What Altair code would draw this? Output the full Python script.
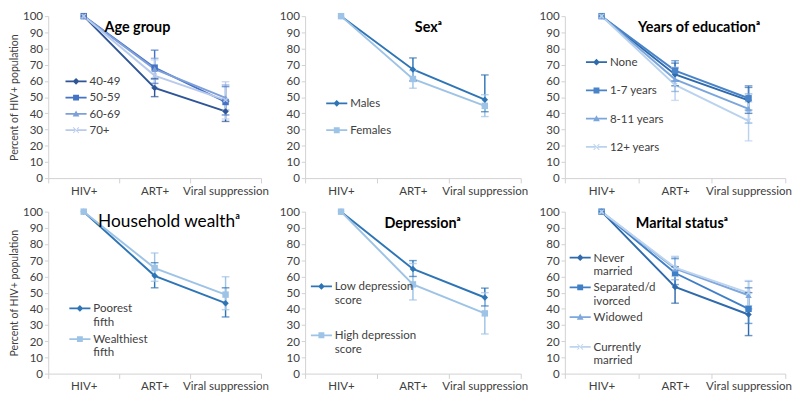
import altair as alt
import pandas as pd

FONT = "Lato"
stages = ["HIV+", "ART+", "Viral suppression"]

# ---- Age group ----
age_series = ["40-49", "50-59", "60-69", "70+"]
age_art = [55.7, 68.2, 67.3, 63.3]
age_art_lo = [50.3, 58.5, 61.0, 56.0]
age_art_hi = [61.5, 79.0, 74.0, 73.0]
age_vs = [41.2, 47.0, 49.5, 48.2]
age_vs_lo = [35.0, 39.0, 42.0, 36.5]
age_vs_hi = [47.5, 56.5, 57.5, 59.5]

# ---- Sex ----
sex_series = ["Males", "Females"]
sex_art = [67.1, 61.2]
sex_art_lo = [60.0, 55.5]
sex_art_hi = [74.2, 66.5]
sex_vs = [48.4, 44.6]
sex_vs_lo = [41.0, 38.0]
sex_vs_hi = [63.7, 51.5]

# ---- Years of education ----
edu_series = ["None", "1-7 years", "8-11 years", "12+ years"]
edu_art = [64.0, 66.4, 61.0, 57.5]
edu_art_lo = [57.0, 60.0, 53.5, 48.0]
edu_art_hi = [71.0, 72.5, 68.0, 68.5]
edu_vs = [48.0, 49.3, 42.8, 35.4]
edu_vs_lo = [40.0, 42.0, 34.0, 23.0]
edu_vs_hi = [56.0, 57.0, 52.0, 47.0]

# ---- Household wealth ----
wealth_series = ["Poorest fifth", "Wealthiest fifth"]
wealth_art = [60.4, 65.2]
wealth_art_lo = [53.0, 57.0]
wealth_art_hi = [68.5, 74.5]
wealth_vs = [43.5, 48.8]
wealth_vs_lo = [35.0, 39.5]
wealth_vs_hi = [53.0, 59.8]

# ---- Depression ----
dep_series = ["Low depression score", "High depression score"]
dep_art = [64.6, 55.1]
dep_art_lo = [60.0, 45.5]
dep_art_hi = [69.8, 68.0]
dep_vs = [47.0, 37.2]
dep_vs_lo = [41.8, 24.5]
dep_vs_hi = [52.8, 50.0]

# ---- Marital status ----
mar_series = ["Never married", "Separated/divorced", "Widowed", "Currently married"]
mar_art = [53.5, 62.1, 64.8, 65.5]
mar_art_lo = [43.5, 55.0, 58.0, 60.0]
mar_art_hi = [66.0, 71.0, 72.0, 72.5]
mar_vs = [36.5, 40.0, 48.4, 49.9]
mar_vs_lo = [23.5, 31.0, 40.0, 42.0]
mar_vs_hi = [50.0, 53.0, 57.0, 57.5]

# legend label line breaks (as in the reference)
wrap = {
    "Poorest fifth": ["Poorest", "fifth"],
    "Wealthiest fifth": ["Wealthiest", "fifth"],
    "Low depression score": ["Low depression", "score"],
    "High depression score": ["High depression", "score"],
    "Never married": ["Never", "married"],
    "Separated/divorced": ["Separated/d", "ivorced"],
    "Widowed": ["Widowed", " "],
    "Currently married": ["Currently", "married"],
}

# styles
dark4 = ["#2f5597", "#4472c4", "#7f9fd9", "#b8cbec"]
edu_cols = ["#2e6aac", "#4a84c8", "#7ba6dc", "#b9d2ef"]
two_cols = ["#2e75b6", "#9dc3e6"]
mar_cols = ["#2e6aac", "#3f7fc6", "#7ea7dd", "#bdd4ef"]
XPATH = "M-0.8,-0.8L0.8,0.8M0.8,-0.8L-0.8,0.8"
shapes4 = ["diamond", "square", "triangle-up", XPATH]
BAR = "M-1,-0.085H1V0.085H-1Z"
leg_marks = [
    "M0,-0.32L0.32,0L0,0.32L-0.32,0Z",
    "M-0.28,-0.28H0.28V0.28H-0.28Z",
    "M0,-0.33L0.32,0.24H-0.32Z",
    "M-0.3,-0.24L-0.24,-0.3L0.3,0.24L0.24,0.3Z M0.3,-0.24L0.24,-0.3L-0.3,0.24L-0.24,0.3Z",
]

W = [222, 225, 230]
H = 169
TOFF = -26


def build_df(series, art, art_lo, art_hi, vs, vs_lo, vs_hi):
    rows = []
    for i, s in enumerate(series):
        rows.append({"series": s, "stage": stages[0], "value": 100.0, "lo": None, "hi": None})
        rows.append({"series": s, "stage": stages[1], "value": art[i], "lo": art_lo[i], "hi": art_hi[i]})
        rows.append({"series": s, "stage": stages[2], "value": vs[i], "lo": vs_lo[i], "hi": vs_hi[i]})
    return pd.DataFrame(rows)


def label_expr(series):
    expr = "datum.label"
    for s in reversed(series):
        if s in wrap:
            arr = "[" + ",".join("'" + t + "'" for t in wrap[s]) + "]"
            expr = "datum.label === '" + s + "' ? " + arr + " : (" + expr + ")"
    return expr


def panel(title, tsize, tweight, tdx, df, series, colors, width, ytitle,
          lx, ly, rowpad):
    n = len(series)
    shp = shapes4[:n] if n == 4 else shapes4[:2]
    lm = leg_marks[:n] if n == 4 else leg_marks[:2]
    leg_paths = [BAR + " " + m for m in lm]
    legend = alt.Legend(
        orient="none", legendX=lx, legendY=ly, title=None, direction="vertical",
        symbolSize=484, symbolStrokeWidth=0, labelFont=FONT, labelFontSize=12,
        labelColor="#404040", rowPadding=rowpad, labelOffset=3, padding=0,
        symbolOpacity=1, labelExpr=label_expr(series),
    )
    cscale = alt.Scale(domain=series, range=colors)
    yscale = alt.Scale(domain=[0, 100], nice=False)
    x = alt.X("stage:N", sort=stages,
              scale=alt.Scale(type="band", domain=stages, paddingInner=0, paddingOuter=0),
              axis=alt.Axis(title=None, labelAngle=0, tickBand="extent", tickSize=5,
                            labelPadding=3))
    yvals = list(range(0, 101, 10))
    if ytitle:
        yax = alt.Axis(values=yvals, grid=False, tickSize=4, labelPadding=2, labelOverlap=False,
                       title="Percent of HIV+ population", titleFontSize=11,
                       titleFontWeight="normal", titleColor="#404040", titlePadding=3,
                       titleFont=FONT)
    else:
        yax = alt.Axis(values=yvals, grid=False, tickSize=4, labelPadding=2, labelOverlap=False,
                       title=None)
    y = alt.Y("value:Q", scale=yscale, axis=yax)
    ylo = alt.Y("lo:Q", scale=yscale, axis=yax)
    yhi = alt.Y("hi:Q", scale=yscale, axis=yax)
    color = alt.Color("series:N", scale=cscale, legend=None)
    base = alt.Chart(df)

    # legend-only layer (no data rows drawn)
    leg_layer = base.transform_filter("false").mark_point(filled=True, opacity=1).encode(
        x=x, y=y,
        color=alt.Color("series:N", scale=cscale, legend=legend),
        shape=alt.Shape("series:N", scale=alt.Scale(domain=series, range=leg_paths), legend=legend),
    )
    line = base.mark_line(strokeWidth=2).encode(x=x, y=y, color=color,
                                                order=alt.Order("stage_order:Q"))
    eb = base.transform_filter("datum.lo != null")
    rule = eb.mark_rule(strokeWidth=1.5).encode(x=x, y=ylo, y2="hi:Q", color=color)
    cap_lo = eb.mark_tick(size=8, thickness=1.5).encode(x=x, y=ylo, color=color)
    cap_hi = eb.mark_tick(size=8, thickness=1.5).encode(x=x, y=yhi, color=color)
    layers = [leg_layer, line, rule, cap_lo, cap_hi]
    for i, s in enumerate(series):
        is_x = shp[i] == XPATH
        m = base.transform_filter(alt.datum.series == s).mark_point(
            filled=not is_x, size=45 if not is_x else 30, strokeWidth=1.3, opacity=1,
            shape=shp[i], color=colors[i],
        ).encode(x=x, y=y)
        layers.append(m)
    ch = alt.layer(*layers).transform_calculate(
        stage_order="indexof(['HIV+','ART+','Viral suppression'], datum.stage)"
    ).properties(
        width=width, height=H,
        title=alt.TitleParams(title, fontSize=tsize, fontWeight=tweight, font=FONT,
                              color="#000000", anchor="middle", offset=TOFF, dx=tdx),
    )
    return ch


p1 = panel("Age group", 15, "bold", -18, build_df(age_series, age_art, age_art_lo, age_art_hi,
                                                    age_vs, age_vs_lo, age_vs_hi),
           age_series, dark4, W[0], True, 18, 57, -3)
p2 = panel("Sexᵃ", 15, "bold", 16, build_df(sex_series, sex_art, sex_art_lo, sex_art_hi,
                                            sex_vs, sex_vs_lo, sex_vs_hi),
           sex_series, two_cols, W[1], False, 22, 80, 11)
p3 = panel("Years of educationᵃ", 15, "bold", 25, build_df(edu_series, edu_art, edu_art_lo,
                                                            edu_art_hi, edu_vs, edu_vs_lo, edu_vs_hi),
           edu_series, edu_cols, W[2], False, 22, 37, 12.5)
p4 = panel("Household wealthᵃ", 18, "normal", 15, build_df(wealth_series, wealth_art, wealth_art_lo,
                                                            wealth_art_hi, wealth_vs, wealth_vs_lo,
                                                            wealth_vs_hi),
           wealth_series, two_cols, W[0], True, 22, 90, 1)
p5 = panel("Depressionᵃ", 15, "bold", 10, build_df(dep_series, dep_art, dep_art_lo, dep_art_hi,
                                                   dep_vs, dep_vs_lo, dep_vs_hi),
           dep_series, two_cols, W[1], False, 6, 67, 20)
p6 = panel("Marital statusᵃ", 15, "bold", 7, build_df(mar_series, mar_art, mar_art_lo, mar_art_hi,
                                                      mar_vs, mar_vs_lo, mar_vs_hi),
           mar_series, mar_cols, W[2], False, 5, 37, -4)

res = dict(color="independent", shape="independent")
row1 = alt.hconcat(p1, p2, p3, spacing=11).resolve_scale(**res)
row2 = alt.hconcat(p4, p5, p6, spacing=11).resolve_scale(**res)
chart = alt.vconcat(row1, row2, spacing=10).resolve_scale(**res).properties(
    padding={"left": 1, "top": -6, "right": 0, "bottom": 0}
).configure_view(stroke=None).configure_axis(
    domainColor="#d0d0d0", tickColor="#d0d0d0", labelColor="#404040",
    labelFont=FONT, labelFontSize=12, titleFont=FONT,
).configure_legend(padding=0)

chart.save("out.html", embed_options={"renderer": "svg", "actions": False})
